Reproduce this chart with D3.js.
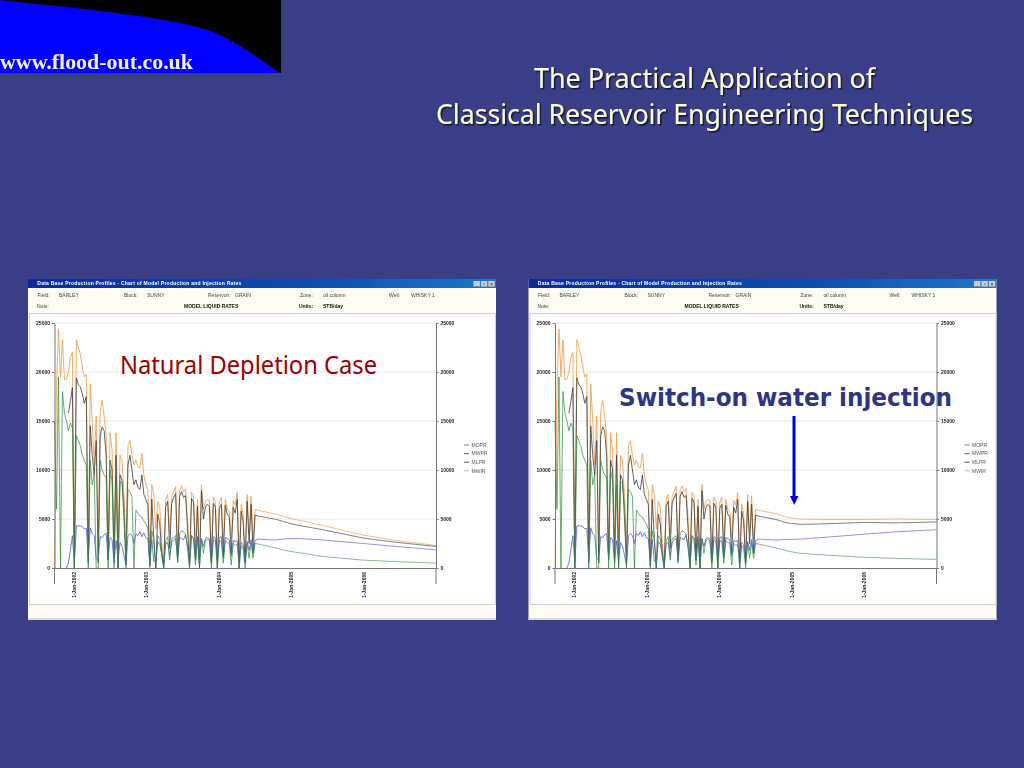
<!DOCTYPE html>
<html><head><meta charset="utf-8">
<script src="https://cdn.jsdelivr.net/npm/d3@7"></script>
<style>html,body{margin:0;padding:0;background:#393e87;overflow:hidden}svg{display:block}</style>
</head><body><svg id="s" width="1024" height="768"></svg>
<script>
// ---------- data ----------
const titleLines = ["The Practical Application of", "Classical Reservoir Engineering Techniques"];
const logoText = "www.flood-out.co.uk";
const windowTitle = "Data Base Production Profiles - Chart of Model Production and Injection Rates";
const chartTitle = "MODEL LIQUID RATES";
const yTicks = [0, 5000, 10000, 15000, 20000, 25000];
const xTickDates = ["2002-01-01", "2003-01-01", "2004-01-01", "2005-01-01", "2006-01-01"];
const legendNames = ["MOPR", "MWPR", "MLPR", "MWIR"];
const legendColors = ["#4f8f4f", "#4848d8", "#404040", "#f0a860"];
const histStart = "2001-09-28", histStepDays = 10;

const histMWIR = [0,18500,24400,19500,23300,19200,19300,20000,21500,22000,1000,23300,22500,21800,20500,19500,19800,1000,18800,15000,10500,15500,1500,16000,17100,15500,13500,1500,13800,12000,2000,13800,3000,11500,11000,7500,1500,12500,13000,11500,10500,11000,10300,10200,11700,9500,8500,8000,1000,8500,7500,4000,6800,6200,2500,500,7000,7500,3500,7300,7800,8300,1500,7900,8400,7800,8100,5000,1000,7700,7400,2000,7000,800,8500,6000,6800,7000,6900,1500,7200,6800,1000,6700,7200,2500,7000,6000,5800,3000,6900,6400,7700,600,6500,5500,1200,7500,3500,7300,2800,6000];
const histMLPR = [null,null,null,null,null,null,null,15800,17000,18400,0,19400,18700,18500,17800,16800,17500,500,14500,11500,9500,13000,500,13500,14400,14000,11500,800,11000,10000,1000,11500,0,9500,9000,5000,400,10500,11500,10000,8500,9000,8200,8000,9500,7500,7000,6500,200,7000,3000,0,5500,4500,1500,0,6300,6800,2000,6600,7200,7600,700,7300,7800,7200,7400,4000,0,7100,6700,800,6300,0,7900,5000,6200,6500,6300,500,6600,6200,0,6100,6500,1200,6400,5500,5200,1500,6200,5600,7000,0,5800,4700,500,6800,2500,6500,1500,5400];
const histMWPR = [null,null,null,null,null,null,0,500,1800,3300,500,4300,4300,4300,4200,4000,4050,1000,4100,3500,3300,1000,800,3200,3100,3400,3500,1000,3100,2900,500,2800,800,2600,2200,1300,300,3300,3500,3300,2500,3500,3300,3700,3200,3600,3100,3000,500,2900,700,600,2700,2400,1500,300,2500,2600,1200,2600,2900,3000,1000,3100,3000,2900,3400,2200,500,3300,3000,800,3200,500,3000,2200,3000,3100,3000,800,3200,3100,700,3100,3200,1000,3100,3000,2900,1200,2800,2700,2800,600,2600,2400,800,2700,1800,2900,1500,2800];
const histMOPR = [15000,6000,19500,0,18000,15800,15000,14000,14800,14300,0,13500,13000,12500,11500,11000,10500,0,11000,8500,9500,0,0,11000,10000,9500,9200,0,10000,8800,0,8500,0,8800,8700,6500,0,8000,7800,7300,0,5900,5600,5300,5200,4800,4500,4000,0,3800,2800,0,3300,3000,1200,0,2800,3200,800,3000,3100,3300,500,3500,3800,3700,3400,2000,0,3300,3000,300,3000,0,3000,1500,2800,2900,2800,0,2900,2700,0,2800,2700,500,2800,2600,2500,300,2500,2300,2400,0,2300,2000,0,2500,1000,2600,1000,2500];

const fcDates = ["2004-07-18","2004-10-15","2004-12-01","2005-01-01","2005-02-15","2005-05-30","2006-01-01","2006-06-15","2007-01-01"];
const fcAMWIR = [5900,5500,5220,5050,4850,4400,3350,2800,2300];
const fcAMLPR = [5300,4980,4700,4520,4320,3950,3050,2620,2200];
const fcAMWPR = [2950,2850,2980,3000,3000,2880,2500,2200,1850];
const fcAMOPR = [2450,2050,1800,1680,1550,1200,800,650,500];
const fcBMWIR = [5900,5550,5250,5100,5000,4950,4950,5000,4950];
const fcBMLPR = [5300,4950,4650,4550,4450,4500,4650,4600,4700];
const fcBMWPR = [2950,2850,2900,2920,2950,3100,3450,3700,3900];
const fcBMOPR = [2450,2050,1800,1650,1500,1350,1100,980,880];

// ---------- drawing ----------
const svg = d3.select("#s");
const parse = d3.utcParse("%Y-%m-%d");
const histDates = d3.utcDay.range(parse(histStart), d3.utcDay.offset(parse(histStart), histMWIR.length * histStepDays), histStepDays);
const SANS = "'Liberation Sans',Arial,sans-serif", TAHOMA = "'Noto Sans','DejaVu Sans',sans-serif", TAHOMAB = "'DejaVu Sans',sans-serif";

const defs = svg.append("defs");
const grad = defs.append("linearGradient").attr("id", "tb");
grad.append("stop").attr("offset", 0).attr("stop-color", "#0a2a9a");
grad.append("stop").attr("offset", 0.6).attr("stop-color", "#0c4cb0");
grad.append("stop").attr("offset", 1).attr("stop-color", "#1c78c8");
const blur = defs.append("filter").attr("id", "soft").attr("x", "-2%").attr("y", "-2%").attr("width", "104%").attr("height", "104%");
blur.append("feGaussianBlur").attr("stdDeviation", 0.35);
const shadow = defs.append("filter").attr("id", "sh").attr("x", "-5%").attr("y", "-20%").attr("width", "110%").attr("height", "140%");
shadow.append("feDropShadow").attr("dx", 1.6).attr("dy", 1.6).attr("stdDeviation", 0.4).attr("flood-color", "#10123c").attr("flood-opacity", 0.95);

// logo
const logo = svg.append("g").attr("filter", "url(#soft)");
logo.append("rect").attr("width", 281).attr("height", 73).attr("fill", "#000");
const logoCurve = d3.line().curve(d3.curveCatmullRom.alpha(0.5));
logo.append("path").attr("fill", "#0000ff")
  .attr("d", logoCurve([[0,0],[8,1],[100,11],[180,23],[215,33],[240,46],[280,73]]) + "L0,73Z");
logo.append("text").text(logoText).attr("x", 0).attr("y", 69)
  .attr("font-family", "'Liberation Serif',serif").attr("font-weight", "bold").attr("font-size", 20)
  .attr("textLength", 193).attr("lengthAdjust", "spacingAndGlyphs").attr("fill", "#f0f0f8");

// slide title
svg.append("g").selectAll("text").data(titleLines).join("text").text(d => d)
  .attr("x", 704.5).attr("y", (d, i) => 88 + i * 35.5).attr("text-anchor", "middle")
  .attr("font-family", TAHOMA).attr("font-size", 27).attr("textLength", (d, i) => i ? 537 : 341).attr("lengthAdjust", "spacingAndGlyphs")
  .attr("fill", "#fbfbd2").attr("filter", "url(#sh)");

function panel(ox, fc) {
  const g = svg.append("g").attr("transform", `translate(${ox},0)`).attr("filter", "url(#soft)");
  g.append("rect").attr("x", 28).attr("y", 279).attr("width", 468).attr("height", 341).attr("fill", "#fdfcf4");
  g.append("rect").attr("x", 28).attr("y", 618).attr("width", 468).attr("height", 2).attr("fill", "#d6d8e6");
  g.append("rect").attr("x", 28).attr("y", 279).attr("width", 468).attr("height", 9).attr("fill", "url(#tb)");
  g.selectAll(".btn").data(["_", "?", "x"]).join("rect").attr("class", "btn")
    .attr("x", (d, i) => 473.5 + i * 7.4).attr("y", 281).attr("width", 6.4).attr("height", 5.6).attr("fill", "#c9cbd2");
  g.selectAll(".btnT").data(["_", "▫", "×"]).join("text").attr("class", "btnT").text(d => d)
    .attr("x", (d, i) => 476.7 + i * 7.4).attr("y", 285.8).attr("text-anchor", "middle")
    .attr("font-family", SANS).attr("font-size", 5).attr("fill", "#222");
  g.append("text").text(windowTitle).attr("x", 37.3).attr("y", 284.8).attr("font-family", SANS)
    .attr("font-weight", "bold").attr("font-size", 5).attr("fill", "#fff").attr("textLength", 204);
  g.append("rect").attr("x", 29.5).attr("y", 313.5).attr("width", 466).attr("height", 291).attr("fill", "#fff").attr("stroke", "#d0d2d8");

  const headers = [["Field:",37.5,296.8,0],["BARLEY",59,296.8,0],["Block:",124,296.8,0],["SUNNY",147,296.8,0],["Reservoir:",208,296.8,0],["GRAIN",235,296.8,0],["Zone:",300,296.8,0],["oil column",323,296.8,0],["Well:",389,296.8,0],["WHISKY 1",411,296.8,0],["Note:",37,307.5,0],[chartTitle,184,307.5,1],["Units:",299,307.5,1],["STB/day",323,307.5,1]];
  g.selectAll(".hd").data(headers).join("text").attr("class", "hd").text(d => d[0])
    .attr("x", d => d[1]).attr("y", d => d[2]).attr("font-family", SANS).attr("font-size", 5)
    .attr("font-weight", d => d[3] ? "bold" : "normal").attr("fill", d => d[3] ? "#111" : "#444");

  const x = d3.scaleUtc().domain([parse(histStart), parse("2007-01-01")]).range([54.5, 436]);
  const y = d3.scaleLinear().domain([0, 25000]).range([568, 323]);

  g.selectAll(".gl").data(yTicks.slice(1)).join("line").attr("class", "gl")
    .attr("x1", 55).attr("x2", 436).attr("y1", d => y(d)).attr("y2", d => y(d)).attr("stroke", "#e2e2e2").attr("stroke-width", 0.8);

  const fcDatesP = fcDates.map(parse);
  const line = d3.line().defined(d => d[1] !== null).x(d => x(d[0])).y(d => y(d[1]));
  const series = [
    [histMWIR, fc.mwir, "#f0a050", 0.85],
    [histMLPR, fc.mlpr, "#3c3c3c", 0.8],
    [histMWPR, fc.mwpr, "#4c4cd8", 0.75],
    [histMOPR, fc.mopr, "#2f8a3a", 0.7]
  ];
  series.forEach(([h, f, c, o]) => {
    const hp = histDates.map((d, i) => [d, h[i]]);
    const fp = fcDatesP.map((d, i) => [d, f[i]]);
    g.append("path").attr("d", line(hp.concat(fp.slice(0, 1)))).attr("fill", "none").attr("stroke", c)
      .attr("stroke-width", 1).attr("stroke-opacity", o).attr("stroke-linejoin", "round");
    g.append("path").attr("d", line(fp)).attr("fill", "none").attr("stroke", c)
      .attr("stroke-width", 0.8).attr("stroke-opacity", o).attr("stroke-linejoin", "round");
  });

  const tickStyle = a => {
    a.selectAll("text").attr("font-family", SANS).attr("font-weight", "bold").attr("font-size", 5).attr("fill", "#222");
    a.selectAll("line,path").attr("stroke", "#777");
  };
  const yFmt = d3.format("d");
  g.append("g").attr("transform", "translate(54.5,0)")
    .call(d3.axisLeft(y).tickValues(yTicks).tickFormat(yFmt).tickSize(2.5).tickPadding(2).tickSizeOuter(0)).call(tickStyle);
  g.append("g").attr("transform", "translate(436,0)")
    .call(d3.axisRight(y).tickValues(yTicks).tickFormat(yFmt).tickSize(2.5).tickPadding(2).tickSizeOuter(0)).call(tickStyle);
  [54.5, 436].forEach(px => g.append("line").attr("x1", px).attr("x2", px).attr("y1", 568).attr("y2", 584).attr("stroke", "#777"));
  const xa = g.append("g").attr("transform", "translate(0,568)")
    .call(d3.axisBottom(x).tickValues(xTickDates.map(parse)).tickFormat(d3.utcFormat("1-%b-%Y")).tickSize(0).tickPadding(0).tickSizeOuter(0)).call(tickStyle);
  xa.selectAll("text").attr("text-anchor", "end").attr("dy", 0).attr("y", 0)
    .attr("transform", "translate(1.7,4) rotate(-90)");

  const lg = g.selectAll(".lg").data(legendNames).join("g").attr("class", "lg")
    .attr("transform", (d, i) => `translate(0,${445 + i * 8.6})`);
  lg.append("line").attr("x1", 464).attr("x2", 469).attr("stroke", (d, i) => legendColors[i]).attr("stroke-width", 0.9);
  lg.append("text").text(d => d).attr("x", 471.5).attr("y", 1.8).attr("font-family", SANS).attr("font-size", 5).attr("fill", "#555");
}

panel(0, {mwir: fcAMWIR, mlpr: fcAMLPR, mwpr: fcAMWPR, mopr: fcAMOPR});
panel(500.5, {mwir: fcBMWIR, mlpr: fcBMLPR, mwpr: fcBMWPR, mopr: fcBMOPR});

// annotations
svg.append("text").text("Natural Depletion Case").attr("x", 120).attr("y", 374)
  .attr("font-family", TAHOMA).attr("font-size", 25).attr("textLength", 257).attr("lengthAdjust", "spacingAndGlyphs").attr("fill", "#990000");
svg.append("text").text("Switch-on water injection").attr("x", 619).attr("y", 405.5)
  .attr("font-family", TAHOMAB).attr("font-weight", "bold").attr("font-size", 24).attr("textLength", 333).attr("lengthAdjust", "spacingAndGlyphs").attr("fill", "#2e3583");
svg.append("line").attr("x1", 794).attr("x2", 794).attr("y1", 416).attr("y2", 497).attr("stroke", "#0000dd").attr("stroke-width", 3);
svg.append("path").attr("d", "M790,496L798.5,496L794.2,505Z").attr("fill", "#0000dd");
</script></body></html>
